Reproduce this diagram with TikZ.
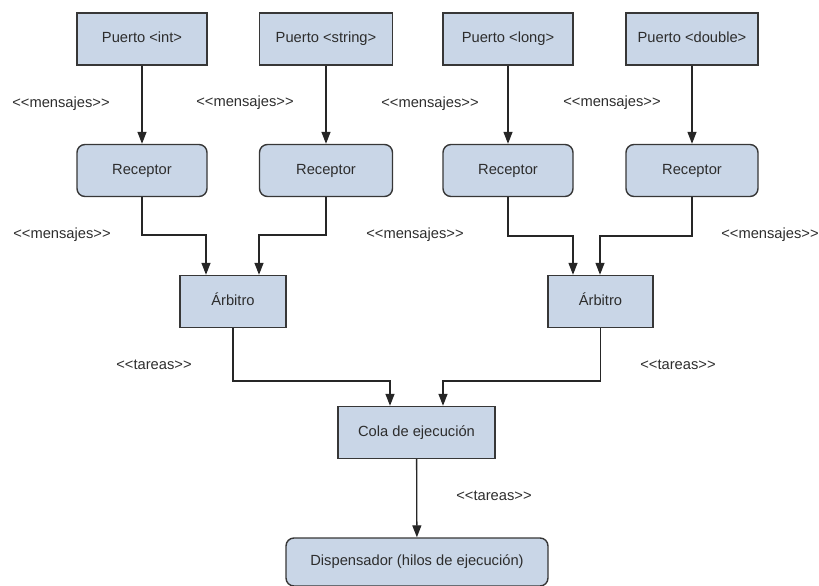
\documentclass[tikz,border=0pt]{standalone}
\usepackage{fontspec}
\setmainfont{Liberation Sans}
\usetikzlibrary{arrows.meta}

\definecolor{cajaazul}{RGB}{201,214,231}
\definecolor{borde}{RGB}{55,55,55}
\definecolor{texto}{RGB}{45,45,45}
% \kern0pt keeps << and >> from turning into guillemets
\newcommand{\msj}{<\kern0pt<mensajes>\kern0pt>}
\newcommand{\tar}{<\kern0pt<tareas>\kern0pt>}

\begin{document}
\begin{tikzpicture}[x=1pt, y=-1pt,
  caja/.style={draw=borde, line width=1.4pt, fill=cajaazul, minimum height=52pt,
    inner sep=0pt, text=texto, text height=10.5pt, text depth=3pt,
    font=\fontsize{14.7}{17}\selectfont},
  redonda/.style={caja, rounded corners=8pt},
  etiqueta/.style={text=texto, text height=10.5pt, text depth=3pt,
    font=\fontsize{14.7}{17}\selectfont},
  flecha/.style={draw=black!85, line width=1.3pt, -{Triangle[length=12pt,width=9pt]}}]
\useasboundingbox (0,0) rectangle (819,586);

% puertos
\node[caja, minimum width=130pt] (p1) at (142,39) {Puerto <int>};
\node[caja, minimum width=133pt] (p2) at (326,39) {Puerto <string>};
\node[caja, minimum width=130pt] (p3) at (508,39) {Puerto <long>};
\node[caja, minimum width=132pt] (p4) at (692,39) {Puerto <double>};

% receptores
\node[redonda, minimum width=130pt] (r1) at (142,170.5) {Receptor};
\node[redonda, minimum width=133pt] (r2) at (326,170.5) {Receptor};
\node[redonda, minimum width=130pt] (r3) at (508,170.5) {Receptor};
\node[redonda, minimum width=132pt] (r4) at (692,170.5) {Receptor};

% arbitros, cola y dispensador
\node[caja, minimum width=106pt] (a1) at (233,301.5) {Árbitro};
\node[caja, minimum width=105pt] (a2) at (600.5,301.5) {Árbitro};
\node[caja, minimum width=157pt] (cola) at (416.5,432.5) {Cola de ejecución};
\node[redonda, minimum width=262pt, minimum height=48pt] (disp) at (417,562) {Dispensador (hilos de ejecución)};

% puntos de quiebre
\coordinate (b1) at (206,235);
\coordinate (b2) at (259,235);
\coordinate (b3) at (573,236);
\coordinate (b4) at (600,236);
\coordinate (c1) at (390,381);
\coordinate (c2) at (443,381);

\foreach \i in {1,...,4}
  \draw[flecha] (p\i) -- (r\i);
\draw[flecha] (r1) |- (b1) -- (b1 |- a1.north);
\draw[flecha] (r2) |- (b2) -- (b2 |- a1.north);
\draw[flecha] (r3) |- (b3) -- (b3 |- a2.north);
\draw[flecha] (r4) |- (b4) -- (b4 |- a2.north);
\draw[flecha] (a1) |- (c1) -- (c1 |- cola.north);
\draw[flecha] (a2) |- (c2) -- (c2 |- cola.north);
\draw[flecha] (cola) -- (disp);

% etiquetas
\node[etiqueta] (m1) at (61,104) {\msj};
\node[etiqueta] (m2) at (245,103) {\msj};
\node[etiqueta] (m3) at (430,104) {\msj};
\node[etiqueta] (m4) at (612,103) {\msj};
\node[etiqueta] (m5) at (62,235) {\msj};
\node[etiqueta] (m6) at (415,235) {\msj};
\node[etiqueta] (m7) at (770,235) {\msj};
\node[etiqueta] (t1) at (154,366) {\tar};
\node[etiqueta] (t2) at (678,366) {\tar};
\node[etiqueta] (t3) at (494,497) {\tar};
\end{tikzpicture}
\end{document}
